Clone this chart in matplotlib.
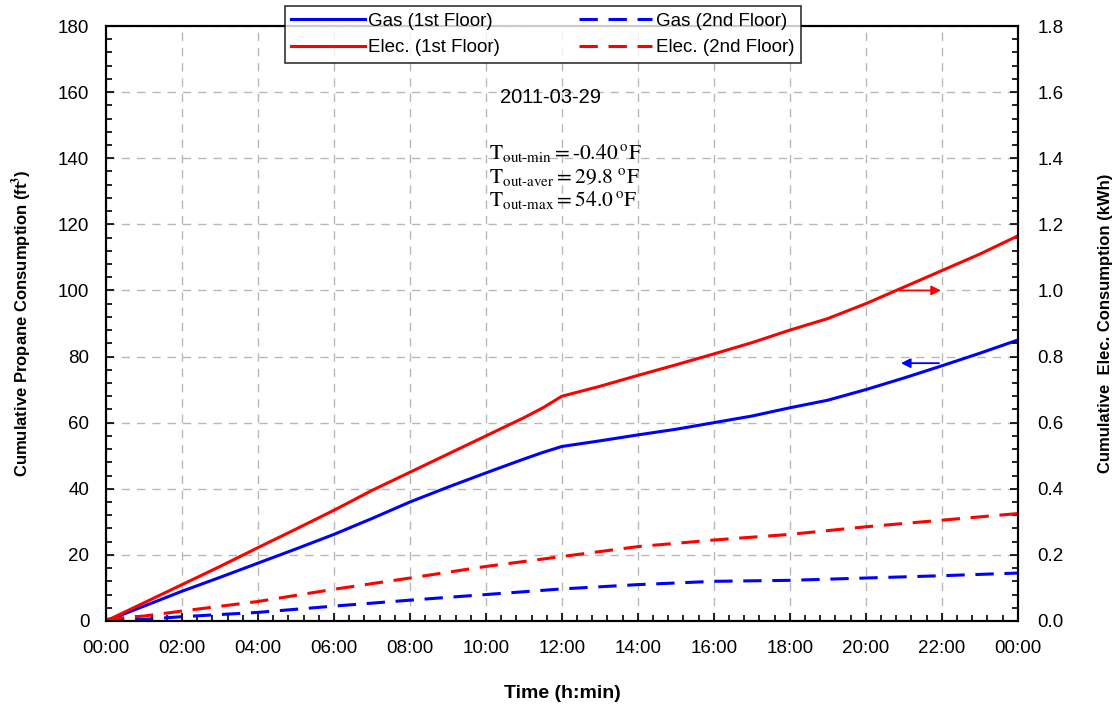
import matplotlib
matplotlib.use("Agg")
import matplotlib.pyplot as plt
from matplotlib.ticker import MultipleLocator, AutoMinorLocator

plt.rcParams['font.family'] = ['Liberation Sans', 'DejaVu Sans']
plt.rcParams['mathtext.fontset'] = 'stix'

# Jam (h) dan konsumsi kumulatif
t_gas1 = [0, 1, 2, 3, 4, 5, 6, 7, 8, 9, 10, 11, 11.5, 12, 13, 14, 15, 16, 17, 18, 19, 20, 21, 22, 23, 24]
gas1 = [0, 4.5, 9, 13.2, 17.5, 21.8, 26.2, 31, 36, 40.5, 44.8, 49, 51, 52.8, 54.5, 56.3, 58, 60, 62, 64.5, 66.8, 70, 73.5, 77.2, 81, 85]

t_elec1 = [0, 1, 2, 3, 4, 5, 6, 7, 8, 9, 10, 11, 11.5, 12, 13, 14, 15, 16, 17, 18, 19, 20, 21, 22, 23, 24]
elec1 = [0, 0.055, 0.11, 0.165, 0.222, 0.278, 0.335, 0.395, 0.45, 0.505, 0.56, 0.615, 0.645, 0.68,
         0.71, 0.743, 0.775, 0.808, 0.842, 0.88, 0.915, 0.96, 1.01, 1.06, 1.11, 1.165]

t_2nd = [0, 1, 2, 4, 6, 8, 10, 12, 14, 16, 18, 20, 22, 24]
gas2 = [0, 0.5, 1.3, 2.6, 4.5, 6.3, 8, 9.7, 11, 12, 12.3, 13, 13.7, 14.5]
elec2 = [0.005, 0.015, 0.03, 0.059, 0.096, 0.13, 0.165, 0.195, 0.225, 0.245, 0.262, 0.285, 0.305, 0.325]

xtick_labels = ['00:00', '02:00', '04:00', '06:00', '08:00', '10:00', '12:00',
                '14:00', '16:00', '18:00', '20:00', '22:00', '00:00']

fig = plt.figure(figsize=(11.16, 7.11), dpi=100)
ax = fig.add_axes([0.095, 0.1266, 0.817, 0.8368])
ax2 = ax.twinx()

dash = (6, 3.5)
l1, = ax.plot(t_gas1, gas1, color='#0000ff', lw=2.2, label='Gas (1st Floor)')
l2, = ax.plot(t_2nd, gas2, color='#0000ff', lw=2.2, dashes=dash, label='Gas (2nd Floor)')
l3, = ax2.plot(t_elec1, elec1, color='#ff0000', lw=2.2, label='Elec. (1st Floor)')
l4, = ax2.plot(t_2nd, elec2, color='#ff0000', lw=2.2, dashes=dash, label='Elec. (2nd Floor)')

ax.set_xlim(0, 24)
ax.set_ylim(0, 180)
ax2.set_ylim(0, 1.8)

ax.set_xticks(range(0, 25, 2))
ax.set_xticklabels(xtick_labels)
ax.xaxis.set_minor_locator(AutoMinorLocator(5))
ax.yaxis.set_major_locator(MultipleLocator(20))
ax.yaxis.set_minor_locator(AutoMinorLocator(5))
ax2.yaxis.set_major_locator(MultipleLocator(0.2))
ax2.yaxis.set_minor_locator(AutoMinorLocator(5))
ax2.yaxis.set_major_formatter(plt.FormatStrFormatter('%.1f'))

for a in (ax, ax2):
    a.tick_params(which='both', direction='in', labelsize=13.5, width=1.2)
    a.tick_params(which='major', length=6)
    a.tick_params(which='minor', length=4)
    for s in a.spines.values():
        s.set_linewidth(1.5)
ax.tick_params(axis='x', pad=14)
ax.tick_params(axis='y', pad=12)
ax2.tick_params(axis='y', pad=14)

ax.grid(True, which='major', color='#b8b8b8', ls=(0, (6, 5)), lw=1)

ax.set_xlabel('Time (h:min)', fontsize=14, fontweight='bold', labelpad=20)
ax.set_ylabel('Cumulative Propane Consumption (ft$^\\mathbf{3}$)', fontsize=12, fontweight='bold', labelpad=17)
ax2.set_ylabel('Cumulative  Elec. Consumption (kWh)', fontsize=12, fontweight='bold', labelpad=25)

# Panah penunjuk sumbu
ax2.annotate('', xy=(22.05, 1.0), xytext=(20.8, 1.0),
             arrowprops=dict(arrowstyle='-|>', color='#ff0000', lw=1.3, mutation_scale=14))
ax.annotate('', xy=(20.85, 78), xytext=(22.0, 78),
            arrowprops=dict(arrowstyle='-|>', color='#0000ff', lw=1.3, mutation_scale=14))

ax.text(0.488, 0.88, '2011-03-29', transform=ax.transAxes, ha='center', va='center', fontsize=14.5)

temps = [('out\\text{-}min', '\\text{-}0.40\\,{}^{o}F'),
         ('out\\text{-}aver', '29.8\\ {}^{o}F'),
         ('out\\text{-}max', '54.0\\,{}^{o}F')]
for i, (sub, val) in enumerate(temps):
    ax.text(0.42, 0.786 - i * 0.039, r'$\mathrm{T_{%s}= %s}$' % (sub, val),
            transform=ax.transAxes, ha='left', va='center', fontsize=15.5)

leg = fig.legend(handles=[l1, l3, l2, l4], ncol=2, loc='center',
                 bbox_to_anchor=(0.4865, 0.9515), fontsize=13.5, frameon=True,
                 fancybox=False, edgecolor='black', handlelength=3.9,
                 columnspacing=4.2, labelspacing=0.5, borderpad=0.35, handletextpad=0.2,
                 borderaxespad=0)
leg.get_frame().set_linewidth(1.2)
leg.set_zorder(10)

fig.savefig('out.png', dpi=100)
